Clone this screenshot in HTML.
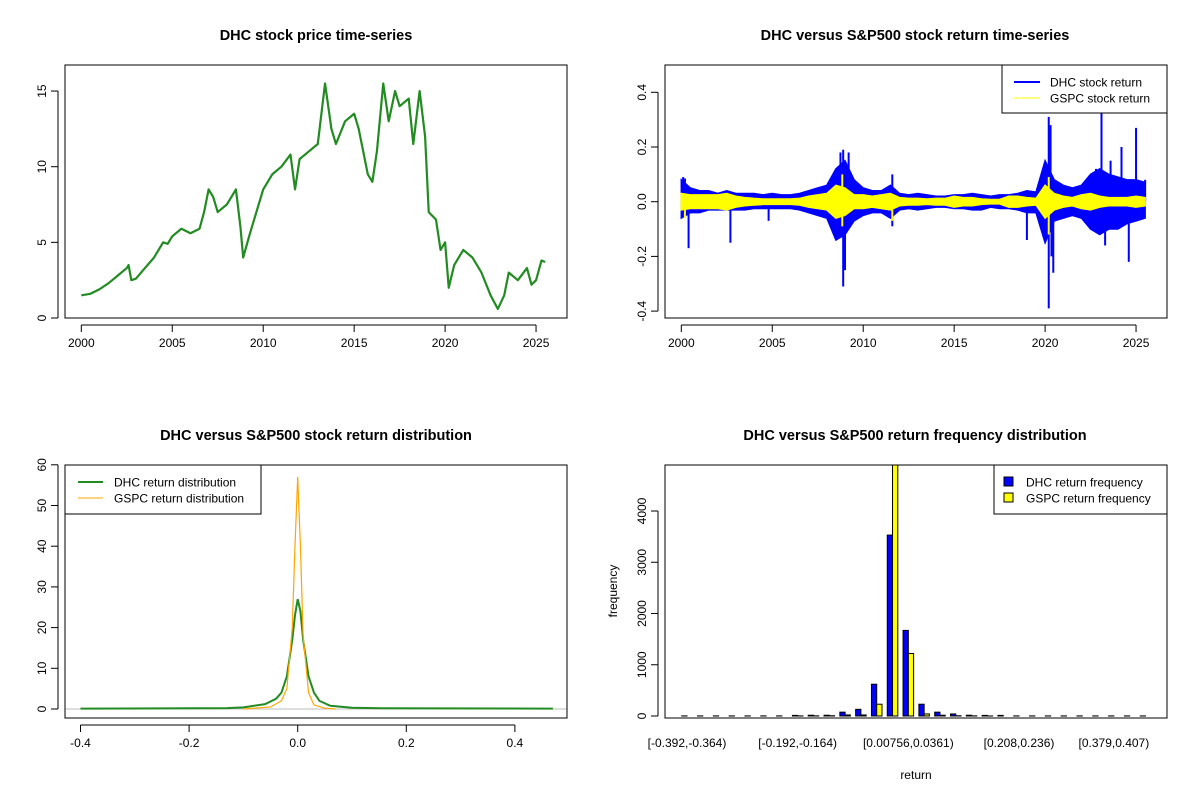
<!DOCTYPE html>
<html><head><meta charset="utf-8"><style>
html,body{margin:0;padding:0;background:#fff}
svg{display:block;font-family:"Liberation Sans",Arial,sans-serif}
</style></head><body>
<svg id="s" width="1200" height="800" viewBox="0 0 1200 800" xmlns="http://www.w3.org/2000/svg">
<defs>
<clipPath id="c1"><rect x="65" y="65" width="502" height="253"/></clipPath>
<clipPath id="c2"><rect x="665" y="65" width="502" height="253"/></clipPath>
<clipPath id="c3"><rect x="65" y="465" width="502" height="253"/></clipPath>
<clipPath id="c4"><rect x="665" y="465" width="502" height="253"/></clipPath>
</defs>
</svg>
<script>
// ---- data: price ----
const priceYears=[2000.0,2000.5,2001,2001.5,2002,2002.5,2002.6,2002.75,2003,2003.5,2004,2004.5,2004.75,2005,2005.5,2006,2006.5,2006.75,2007,2007.25,2007.5,2008,2008.5,2008.75,2008.9,2009.25,2009.5,2010,2010.5,2011,2011.5,2011.75,2012,2012.5,2013,2013.25,2013.4,2013.75,2014,2014.5,2015,2015.25,2015.5,2015.75,2016,2016.25,2016.6,2016.9,2017.25,2017.5,2018,2018.25,2018.6,2018.9,2019.1,2019.5,2019.75,2020.0,2020.2,2020.5,2021,2021.5,2022,2022.5,2022.9,2023.25,2023.5,2024,2024.5,2024.75,2025,2025.3,2025.5];
const priceValues=[1.5,1.6,1.9,2.3,2.8,3.3,3.5,2.5,2.6,3.3,4.0,5.0,4.9,5.4,5.9,5.6,5.9,7.0,8.5,8.0,7.0,7.5,8.5,6.0,4.0,5.5,6.5,8.5,9.5,10.0,10.8,8.5,10.5,11.0,11.5,14.0,15.5,12.5,11.5,13.0,13.5,12.5,11.0,9.5,9.0,11.0,15.5,13.0,15.0,14.0,14.5,11.5,15.0,12.0,7.0,6.5,4.5,5.0,2.0,3.5,4.5,4.0,3.0,1.5,0.6,1.5,3.0,2.5,3.3,2.2,2.5,3.8,3.7];
const priceTicks=[0,5,10,15];
const yearTicks=[2000,2005,2010,2015,2020,2025];
// ---- data: returns (half-year envelopes + spikes) ----
const retYears=[2000,2000.5,2001,2001.5,2002,2002.5,2003,2003.5,2004,2004.5,2005,2005.5,2006,2006.5,2007,2007.5,2008,2008.5,2009,2009.5,2010,2010.5,2011,2011.5,2012,2012.5,2013,2013.5,2014,2014.5,2015,2015.5,2016,2016.5,2017,2017.5,2018,2018.5,2019,2019.5,2020,2020.5,2021,2021.5,2022,2022.5,2023,2023.5,2024,2024.5,2025,2025.5];
const dhcHi=[0.08,0.05,0.04,0.04,0.03,0.04,0.03,0.03,0.03,0.025,0.03,0.025,0.025,0.03,0.04,0.05,0.06,0.12,0.15,0.08,0.05,0.04,0.04,0.06,0.03,0.025,0.03,0.025,0.02,0.02,0.025,0.025,0.03,0.025,0.02,0.025,0.025,0.03,0.04,0.035,0.15,0.08,0.06,0.05,0.06,0.1,0.12,0.1,0.09,0.08,0.08,0.07];
const dhcLo=[-0.06,-0.04,-0.04,-0.03,-0.03,-0.03,-0.03,-0.03,-0.025,-0.025,-0.025,-0.025,-0.025,-0.03,-0.04,-0.05,-0.06,-0.14,-0.12,-0.07,-0.05,-0.04,-0.04,-0.06,-0.03,-0.025,-0.03,-0.025,-0.02,-0.02,-0.025,-0.025,-0.03,-0.03,-0.02,-0.025,-0.025,-0.03,-0.04,-0.04,-0.15,-0.07,-0.06,-0.05,-0.06,-0.1,-0.12,-0.1,-0.1,-0.08,-0.07,-0.06];
const spxAmp=[0.03,0.025,0.025,0.025,0.025,0.03,0.02,0.015,0.012,0.01,0.01,0.01,0.01,0.012,0.02,0.025,0.03,0.06,0.05,0.025,0.025,0.02,0.025,0.03,0.015,0.012,0.012,0.01,0.012,0.012,0.02,0.015,0.015,0.01,0.008,0.008,0.02,0.02,0.015,0.012,0.06,0.03,0.02,0.015,0.025,0.03,0.02,0.015,0.015,0.015,0.02,0.015];
const dhcSpikeYears=[2000.1,2000.2,2000.4,2002.7,2004.8,2008.75,2008.9,2008.9,2009.0,2009.2,2011.6,2011.6,2019.0,2020.2,2020.2,2020.3,2020.35,2020.45,2022.8,2023.0,2023.1,2023.3,2023.6,2024.2,2024.6,2025.0,2025.5];
const dhcSpikeValues=[0.09,0.085,-0.17,-0.15,-0.07,0.18,0.19,-0.31,-0.25,0.18,0.10,-0.09,-0.14,0.31,-0.39,0.28,-0.2,-0.26,0.12,-0.12,0.33,-0.16,0.15,0.2,-0.22,0.27,0.08];
const spxSpikeYears=[2000.2,2008.85,2008.85,2011.6,2020.2,2020.2];
const spxSpikeValues=[-0.06,0.1,-0.09,-0.07,0.09,-0.12];
const retTicks=[-0.4,-0.2,0,0.2,0.4];
// ---- data: density ----
const dhcDensX=[-0.4,-0.13,-0.1,-0.06,-0.04,-0.03,-0.02,-0.01,-0.005,0,0.005,0.01,0.02,0.03,0.04,0.06,0.1,0.14,0.47];
const dhcDensY=[0.1,0.2,0.4,1.2,2.5,4,8,17,23,27,24,17,8,4,2,0.8,0.3,0.2,0.1];
const spxDensX=[-0.1,-0.05,-0.03,-0.02,-0.01,-0.005,0,0.005,0.01,0.02,0.03,0.05,0.07];
const spxDensY=[0,0.5,2,5,20,40,57,40,18,4,1,0.2,0];
const densXTicks=[-0.4,-0.2,0,0.2,0.4];
const densYTicks=[0,10,20,30,40,50,60];
// ---- data: histogram ----
const dhcFreq=[2,2,2,2,2,2,2,12,15,15,75,130,620,3530,1670,230,75,40,15,12,12,2,2,2,2,2,2,2,2,2];
const spxFreq=[0,0,0,0,0,0,0,2,3,5,20,20,230,5500,1220,40,15,5,3,1,0,0,0,0,0,0,0,0,0,0];
const histLabelBins=[0,7,14,21,27];
const histLabels=["[-0.392,-0.364)","[-0.192,-0.164)","[0.00756,0.0361)","[0.208,0.236)","[0.379,0.407)"];
const histYTicks=[0,1000,2000,3000,4000];

const S=document.getElementById('s');
const NS='http://www.w3.org/2000/svg';
function mk(tag,attrs,parent,txt){const e=document.createElementNS(NS,tag);for(const k in attrs)e.setAttribute(k,attrs[k]);if(txt!==undefined)e.textContent=txt;(parent||S).appendChild(e);return e;}

const xYearL=y=>81.3+(y-2000)*18.19;
const xYearR=y=>681.3+(y-2000)*18.19;
const yPrice=v=>318-v*15.13;
const yRet=v=>201.7-v*273.5;
const xDens=v=>297.7+v*543;
const yDens=v=>709-v*4.07;
const xHist=u=>687+(u-2)*5.27;
const yHist=v=>716-v*0.05125;

function box(x,y,w,h,name){const r=mk('rect',{x:x,y:y,width:w,height:h,fill:'none',stroke:'#000','stroke-width':1});}
function title(x,y,t,name){const e=mk('text',{x:x,y:y,'text-anchor':'middle','font-size':'14.5','font-weight':'bold'},S,t);}
function xTick(x,yb,label,name){mk('line',{x1:x,x2:x,y1:yb,y2:yb+7,stroke:'#000'});const e=mk('text',{x:x,y:yb+22,'text-anchor':'middle','font-size':'12'},S,label);}
function yTick(xl,y,label,name){mk('line',{x1:xl-7,x2:xl,y1:y,y2:y,stroke:'#000'});const tx=xl-12;const e=mk('text',{x:tx,y:y,'text-anchor':'middle','font-size':'12',transform:`rotate(-90 ${tx} ${y})`},S,label);}
function fmt(v,d){return v.toFixed(d);}

// ===== Panel 1: price =====
title(316,40,'DHC stock price time-series','price-title');
const g1=mk('g',{'clip-path':'url(#c1)'});


const pl=mk('polyline',{points:priceYears.map((y,i)=>xYearL(y)+','+yPrice(priceValues[i])).join(' '),fill:'none',stroke:'#228B22','stroke-width':2.2,'stroke-linejoin':'round'},g1);


mk('line',{x1:xYearL(2000),x2:xYearL(2025),y1:325,y2:325,stroke:'#000'});
yearTicks.forEach(y=>xTick(xYearL(y),325,String(y),'price-x-tick'));
mk('line',{x1:58,x2:58,y1:yPrice(0),y2:yPrice(15),stroke:'#000'});
priceTicks.forEach(v=>yTick(58,yPrice(v),String(v),'price-y-tick'));
box(65,65,502,253,'price-plot-frame');

// ===== Panel 2: returns =====
title(915,40,'DHC versus S&P500 stock return time-series','return-title');
const g2=mk('g',{'clip-path':'url(#c2)'});


let pts=retYears.map((y,i)=>xYearR(y)+','+yRet(dhcHi[i]));
pts=pts.concat(retYears.map((y,i)=>xYearR(y)+','+yRet(dhcLo[i])).reverse());
const dp=mk('polygon',{points:pts.join(' '),fill:'#0000FF',stroke:'#0000FF','stroke-width':1.5},g2);


dhcSpikeYears.forEach((y,i)=>{const l=mk('line',{x1:xYearR(y),x2:xYearR(y),y1:yRet(0),y2:yRet(dhcSpikeValues[i]),stroke:'#0000FF','stroke-width':2},g2);});
let sp=retYears.map((y,i)=>xYearR(y)+','+yRet(spxAmp[i]));
sp=sp.concat(retYears.map((y,i)=>xYearR(y)+','+yRet(-spxAmp[i])).reverse());
const spp=mk('polygon',{points:sp.join(' '),fill:'#FFFF00',stroke:'#FFFF00','stroke-width':1.5},g2);


spxSpikeYears.forEach((y,i)=>{const l=mk('line',{x1:xYearR(y),x2:xYearR(y),y1:yRet(0),y2:yRet(spxSpikeValues[i]),stroke:'#FFFF00','stroke-width':2},g2);});
mk('line',{x1:xYearR(2000),x2:xYearR(2025),y1:325,y2:325,stroke:'#000'});
yearTicks.forEach(y=>xTick(xYearR(y),325,String(y),'return-x-tick'));
mk('line',{x1:658,x2:658,y1:yRet(-0.4),y2:yRet(0.4),stroke:'#000'});
retTicks.forEach(v=>yTick(658,yRet(v),v===0?'0.0':fmt(v,1),'return-y-tick'));
box(665,65,502,253,'return-plot-frame');
const lg2=mk('g',{});


mk('rect',{x:1002,y:65,width:165,height:48,fill:'#fff',stroke:'#000'},lg2);
mk('line',{x1:1014,x2:1040,y1:82,y2:82,stroke:'#0000FF','stroke-width':2},lg2);
mk('line',{x1:1014,x2:1040,y1:98,y2:98,stroke:'#FFFF00','stroke-width':1},lg2);
mk('text',{x:1050,y:86.5,'font-size':'12'},lg2,'DHC stock return');
mk('text',{x:1050,y:102.5,'font-size':'12'},lg2,'GSPC stock return');

// ===== Panel 3: density =====
title(316,440,'DHC versus S&P500 stock return distribution','density-title');
const g3=mk('g',{'clip-path':'url(#c3)'});


mk('line',{x1:65,x2:567,y1:yDens(0),y2:yDens(0),stroke:'#bebebe'},g3);
const d1=mk('polyline',{points:dhcDensX.map((x,i)=>xDens(x)+','+yDens(dhcDensY[i])).join(' '),fill:'none',stroke:'#228B22','stroke-width':2},g3);


const d2=mk('polyline',{points:spxDensX.map((x,i)=>xDens(x)+','+yDens(spxDensY[i])).join(' '),fill:'none',stroke:'#FFA500','stroke-width':1.2},g3);


mk('line',{x1:xDens(-0.4),x2:xDens(0.4),y1:725,y2:725,stroke:'#000'});
densXTicks.forEach(v=>xTick(xDens(v),725,v===0?'0.0':fmt(v,1),'density-x-tick'));
mk('line',{x1:58,x2:58,y1:yDens(0),y2:yDens(60),stroke:'#000'});
densYTicks.forEach(v=>yTick(58,yDens(v),String(v),'density-y-tick'));
box(65,465,502,253,'density-plot-frame');
const lg3=mk('g',{});


mk('rect',{x:65,y:465,width:196,height:49,fill:'#fff',stroke:'#000'},lg3);
mk('line',{x1:78,x2:103,y1:482,y2:482,stroke:'#228B22','stroke-width':2},lg3);
mk('line',{x1:78,x2:103,y1:498,y2:498,stroke:'#FFA500','stroke-width':1},lg3);
mk('text',{x:114,y:486.5,'font-size':'12'},lg3,'DHC return distribution');
mk('text',{x:114,y:502.5,'font-size':'12'},lg3,'GSPC return distribution');

// ===== Panel 4: histogram =====
title(915,440,'DHC versus S&P500 return frequency distribution','histogram-title');
const g4=mk('g',{'clip-path':'url(#c4)'});


dhcFreq.forEach((v,i)=>{const u=3*i+1;const r=mk('rect',{x:xHist(u),y:yHist(v),width:xHist(u+1)-xHist(u),height:yHist(0)-yHist(v),fill:'#0000FF',stroke:'#000','stroke-width':1},g4);});
spxFreq.forEach((v,i)=>{const u=3*i+2;const r=mk('rect',{x:xHist(u),y:yHist(v),width:xHist(u+1)-xHist(u),height:yHist(0)-yHist(v),fill:'#FFFF00',stroke:'#000','stroke-width':1},g4);});
histLabelBins.forEach((b,i)=>{const e=mk('text',{x:xHist(3*b+2),y:747,'text-anchor':'middle','font-size':'12'},S,histLabels[i]);});
mk('line',{x1:658,x2:658,y1:yHist(0),y2:yHist(4000),stroke:'#000'});
histYTicks.forEach(v=>yTick(658,yHist(v),String(v),'histogram-y-tick'));
box(665,465,502,253,'histogram-plot-frame');
const xt=mk('text',{x:916,y:779,'text-anchor':'middle','font-size':'12'},S,'return');


const yt=mk('text',{x:617,y:591,'text-anchor':'middle','font-size':'12',transform:'rotate(-90 617 591)'},S,'frequency');


const lg4=mk('g',{});


mk('rect',{x:994,y:465,width:173,height:49,fill:'#fff',stroke:'#000'},lg4);
mk('rect',{x:1004,y:477,width:9,height:9,fill:'#0000FF',stroke:'#000'},lg4);
mk('rect',{x:1004,y:493,width:9,height:9,fill:'#FFFF00',stroke:'#000'},lg4);
mk('text',{x:1026,y:486.5,'font-size':'12'},lg4,'DHC return frequency');
mk('text',{x:1026,y:502.5,'font-size':'12'},lg4,'GSPC return frequency');
</script>
</body></html>
